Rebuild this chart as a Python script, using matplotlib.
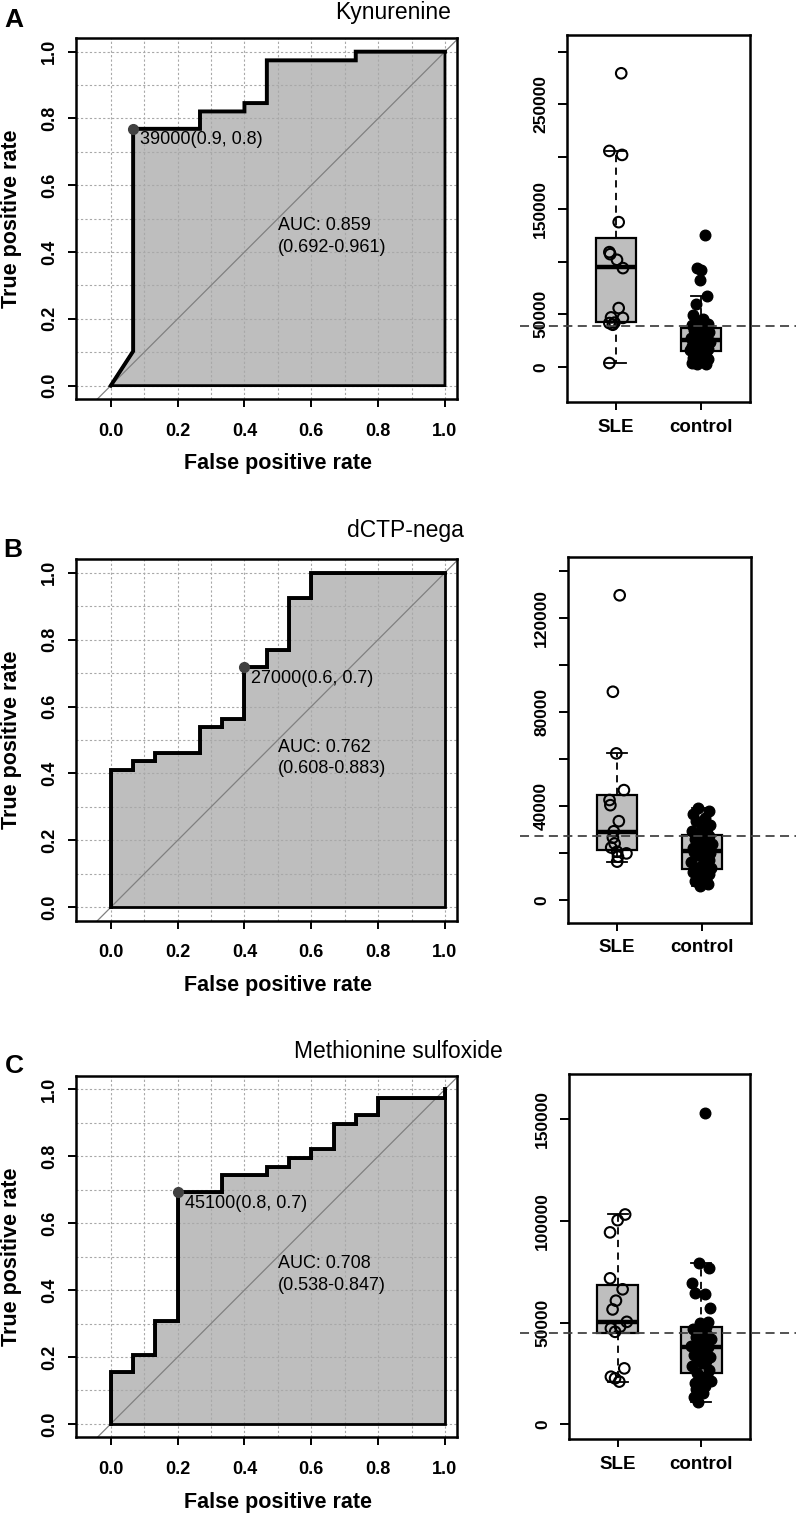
import matplotlib
matplotlib.use("Agg")
import matplotlib.pyplot as plt
from matplotlib.patches import Polygon
from matplotlib.lines import Line2D
import matplotlib.transforms as mtransforms

plt.rcParams['font.family'] = ['Liberation Sans', 'DejaVu Sans']

# ---------------- data ----------------
titles = ["Kynurenine", "dCTP-nega", "Methionine sulfoxide"]
panel_letters = ["A", "B", "C"]
groups = ["SLE", "control"]

# ROC step curves (false positive rate, true positive rate)
fpr_A = [0, 0.067, 0.067, 0.267, 0.267, 0.4, 0.4, 0.467, 0.467, 0.733, 0.733, 1.0]
tpr_A = [0, 0.103, 0.769, 0.769, 0.821, 0.821, 0.846, 0.846, 0.974, 0.974, 1.0, 1.0]
fpr_B = [0, 0, 0.067, 0.067, 0.133, 0.133, 0.267, 0.267, 0.333, 0.333, 0.4, 0.4,
         0.467, 0.467, 0.533, 0.533, 0.6, 0.6, 1.0]
tpr_B = [0, 0.41, 0.41, 0.436, 0.436, 0.462, 0.462, 0.538, 0.538, 0.564, 0.564, 0.718,
         0.718, 0.769, 0.769, 0.923, 0.923, 1.0, 1.0]
fpr_C = [0, 0, 0.067, 0.067, 0.133, 0.133, 0.2, 0.2, 0.333, 0.333, 0.467, 0.467,
         0.533, 0.533, 0.6, 0.6, 0.667, 0.667, 0.733, 0.733, 0.8, 0.8, 1.0, 1.0]
tpr_C = [0, 0.154, 0.154, 0.205, 0.205, 0.308, 0.308, 0.692, 0.692, 0.744, 0.744, 0.769,
         0.769, 0.795, 0.795, 0.821, 0.821, 0.897, 0.897, 0.923, 0.923, 0.974, 0.974, 1.0]

best_points = [(0.067, 0.769), (0.4, 0.718), (0.2, 0.692)]
threshold_labels = ["39000(0.9, 0.8)", "27000(0.6, 0.7)", "45100(0.8, 0.7)"]
auc_labels = ["AUC: 0.859", "AUC: 0.762", "AUC: 0.708"]
ci_labels = ["(0.692-0.961)", "(0.608-0.883)", "(0.538-0.847)"]
thresholds = [39000, 27000, 45100]

# Box plot values
sle_A = [279700, 205700, 201900, 137800, 109200, 107300, 101900, 94000, 55900,
         47000, 46500, 42000, 41600, 40000, 3500]
sle_A_jit = [0.06, -0.08, 0.07, 0.03, -0.08, -0.07, 0.01, 0.08, 0.03,
             -0.06, 0.08, -0.02, -0.08, -0.04, -0.08]
ctrl_A = [125700, 94000, 92500, 82900, 67600, 60000, 48900, 45000, 43000, 41000,
          39500, 37500, 36500, 35000, 33000, 31000, 29000, 27500, 26000, 25000,
          24000, 22500, 21000, 20000, 19000, 17500, 16500, 15500, 15000, 14000,
          12000, 10000, 8500, 7000, 5500, 4500, 3500, 3000, 2500]
ctrl_A_jit = [0.05, -0.04, 0.00, -0.01, 0.07, -0.06, -0.09, 0.03, -0.05, 0.08,
              -0.11, 0.01, 0.06, -0.08, 0.10, -0.02, 0.04, -0.12, 0.07, -0.03,
              0.11, -0.07, 0.02, -0.10, 0.05, -0.04, 0.09, -0.13, 0.00, 0.06,
              -0.06, 0.03, -0.09, 0.08, -0.02, 0.04, -0.11, 0.06, -0.05]

sle_B = [129500, 88500, 62300, 46700, 42500, 40300, 33500, 29200, 26500, 24000,
         22300, 20500, 19800, 18400, 16300]
sle_B_jit = [0.03, -0.05, -0.01, 0.08, -0.09, -0.08, 0.02, -0.04, -0.05, -0.03,
             -0.07, 0.0, 0.11, 0.01, 0.0]
ctrl_B = [38900, 37800, 36500, 35000, 33500, 32000, 30500, 29500, 28500, 27700,
          27000, 26000, 25000, 24000, 23000, 22500, 22000, 21500, 21200, 21000,
          20500, 20000, 19000, 18000, 17000, 16000, 15000, 14000, 13500, 13000,
          12500, 12000, 11500, 11000, 10000, 9000, 8000, 7000, 6000]
ctrl_B_jit = [-0.04, 0.08, -0.10, 0.04, -0.07, 0.10, 0.00, -0.12, 0.06, -0.03,
              0.09, -0.08, 0.02, 0.12, -0.05, 0.05, -0.11, 0.07, -0.01, 0.03,
              -0.09, 0.10, -0.06, 0.01, 0.08, -0.13, 0.04, -0.02, 0.11, -0.07,
              0.06, -0.10, 0.02, 0.09, -0.04, 0.05, -0.08, 0.07, -0.02]

sle_C = [103200, 100400, 94400, 71800, 66400, 60800, 56500, 50400, 48000, 47200,
         45500, 27500, 23400, 22600, 21000]
sle_C_jit = [0.09, 0.0, -0.09, -0.09, 0.06, -0.02, -0.06, 0.11, 0.03, -0.08,
             -0.03, 0.08, -0.08, -0.03, 0.02]
ctrl_C = [153200, 79100, 76700, 69600, 64400, 63900, 57000, 50200, 49700, 48000,
          47000, 45500, 44000, 43000, 42000, 40500, 39500, 38500, 38000, 37900,
          37000, 35500, 34000, 33000, 32000, 31000, 30000, 28500, 26500, 25400,
          24000, 22500, 21500, 20500, 19000, 17500, 15500, 13500, 11100]
ctrl_C_jit = [0.04, -0.03, 0.09, -0.11, -0.08, 0.04, 0.10, 0.08, -0.02, 0.05,
              -0.10, 0.02, 0.07, -0.06, 0.11, -0.03, 0.05, -0.12, 0.00, 0.08,
              -0.07, 0.03, -0.09, 0.10, -0.04, 0.06, 0.01, -0.11, 0.09, -0.05,
              0.07, -0.02, 0.11, -0.08, 0.04, -0.06, 0.02, -0.09, -0.04]

# box statistics: (whisker low, q1, median, q3, whisker high)
box_A = [(3500, 42900, 95200, 122900, 205700), (2900, 15200, 25100, 36800, 67600)]
box_B = [(16300, 21200, 29000, 44600, 62300), (6000, 13000, 21000, 27700, 38900)]
box_C = [(21000, 45000, 50400, 68500, 103200), (11100, 25400, 37900, 48000, 79100)]

box_yticks = [[0, 50000, 100000, 150000, 200000, 250000, 300000],
              [0, 20000, 40000, 60000, 80000, 100000, 120000, 140000],
              [0, 50000, 100000, 150000]]
box_yticklabels = [["0", "50000", "", "150000", "", "250000", ""],
                   ["0", "", "40000", "", "80000", "", "120000", ""],
                   ["0", "50000", "100000", "150000"]]
box_ylims = [(-33650, 316200), (-9650, 145900), (-7230, 172300)]

roc_curves = [(fpr_A, tpr_A), (fpr_B, tpr_B), (fpr_C, tpr_C)]
sle_vals = [sle_A, sle_B, sle_C]
sle_jits = [sle_A_jit, sle_B_jit, sle_C_jit]
ctrl_vals = [ctrl_A, ctrl_B, ctrl_C]
ctrl_jits = [ctrl_A_jit, ctrl_B_jit, ctrl_C_jit]
box_stats = [box_A, box_B, box_C]

# ---------------- layout (pixels) ----------------
W, H = 796, 1517
fig = plt.figure(figsize=(W / 100, H / 100), dpi=100)


def rect(x0, y0, x1, y1):
    return [x0 / W, 1 - y1 / H, (x1 - x0) / W, (y1 - y0) / H]


roc_px = [(76, 38.3, 457, 399), (76, 559.3, 457, 920.7), (76, 1076, 457, 1437.3)]
box_px = [(567, 35, 750, 402), (568, 556.7, 751, 922.7), (569, 1074, 750, 1439)]
title_pos = [(393, 18.5), (405, 537.5), (398, 1057.5)]      # baseline positions
letter_pos = [(14, 27), (13, 557), (14, 1073)]               # baseline positions
ROC_XLIM = (-0.104, 1.036)
ROC_YLIM = (-0.04, 1.04)
GREY = "#bebebe"

for i in range(3):
    # ---------- ROC panel ----------
    x0, y0, x1, y1 = roc_px[i]
    ax = fig.add_axes(rect(x0, y0, x1, y1))
    fpr, tpr = roc_curves[i]
    ax.set_xlim(*ROC_XLIM)
    ax.set_ylim(*ROC_YLIM)
    ax.set_axisbelow(False)
    poly_pts = list(zip(fpr, tpr)) + [(1.0, 0.0), (0.0, 0.0)]
    ax.add_patch(Polygon(poly_pts, closed=True, facecolor=GREY, edgecolor="none",
                         zorder=1))
    ax.add_patch(Polygon(poly_pts, closed=True, fill=False, edgecolor="black",
                         lw=2.0, zorder=2.8))
    ax.set_xticks([0, 0.2, 0.4, 0.6, 0.8, 1.0])
    ax.set_xticklabels(["0.0", "0.2", "0.4", "0.6", "0.8", "1.0"])
    ax.set_yticks([0, 0.2, 0.4, 0.6, 0.8, 1.0])
    ax.set_yticklabels(["0.0", "0.2", "0.4", "0.6", "0.8", "1.0"])
    ax.set_xticks([0.1, 0.3, 0.5, 0.7, 0.9], minor=True)
    ax.set_yticks([0.1, 0.3, 0.5, 0.7, 0.9], minor=True)
    ax.grid(True, which="both", color="#a8a8a8", linestyle=(0, (2, 2)), lw=0.8)
    ax.tick_params(which="minor", length=0)
    ax.tick_params(which="major", length=6, width=1.4, direction="out")
    ax.tick_params(axis="x", pad=11, labelsize=13)
    ax.tick_params(axis="y", pad=7, labelsize=13, labelrotation=90)
    for lab in ax.get_xticklabels() + ax.get_yticklabels():
        lab.set_fontweight("bold")
    for lab in ax.get_yticklabels():
        lab.set_va("center")
    ax.axline((0, 0), (1, 1), color="#808080", lw=0.9, zorder=2.6)
    ax.plot(fpr, tpr, color="black", lw=2.8, zorder=3, solid_joinstyle="miter")
    bx, by = best_points[i]
    ax.plot([bx], [by], "o", color="#404040", ms=7, zorder=4)
    ax.annotate(threshold_labels[i], (bx, by), xytext=(5, -8), textcoords="offset points",
                ha="left", va="center", fontsize=13, zorder=5)
    ax.text(0.5, 0.479, auc_labels[i], ha="left", va="center", fontsize=13, zorder=5)
    ax.text(0.5, 0.414, ci_labels[i], ha="left", va="center", fontsize=13, zorder=5)
    for s in ax.spines.values():
        s.set_linewidth(1.8)
        s.set_zorder(6)

    fig.text(12 / W, 1 - ((y0 + y1) / 2) / H, "True positive rate", rotation=90,
             ha="center", va="center", fontsize=15.5, fontweight="bold")
    fig.text(277.5 / W, 1 - (y1 + 65) / H, "False positive rate",
             ha="center", va="center", fontsize=15.5, fontweight="bold")

    tx, ty = title_pos[i]
    fig.text(tx / W, 1 - ty / H, titles[i], ha="center", va="baseline", fontsize=16.5)
    lx, ly = letter_pos[i]
    fig.text(lx / W, 1 - ly / H, panel_letters[i], ha="center", va="baseline",
             fontsize=19, fontweight="bold")

    # ---------- box plot panel ----------
    bx0, by0, bx1, by1 = box_px[i]
    axb = fig.add_axes(rect(bx0, by0, bx1, by1))
    stats = []
    for (lo, q1, med, q3, hi), name in zip(box_stats[i], groups):
        stats.append(dict(whislo=lo, q1=q1, med=med, q3=q3, whishi=hi, label=name))
    axb.bxp(stats, positions=[1, 2], widths=0.48, capwidths=0.24, showfliers=False,
            patch_artist=True,
            boxprops=dict(facecolor=GREY, edgecolor="black", lw=1.6),
            medianprops=dict(color="black", lw=3.2),
            whiskerprops=dict(color="black", lw=1.3, linestyle=(0, (4, 3))),
            capprops=dict(color="black", lw=1.3))
    axb.scatter([1 + j for j in sle_jits[i]], sle_vals[i], s=58, facecolors="none",
                edgecolors="black", linewidths=1.5, zorder=4)
    axb.scatter([2 + j for j in ctrl_jits[i]], ctrl_vals[i], s=58, facecolors="black",
                edgecolors="black", linewidths=1.0, zorder=4)
    axb.set_xlim(0.42, 2.58)
    axb.set_ylim(*box_ylims[i])
    axb.set_xticks([1, 2])
    axb.set_xticklabels(groups)
    axb.set_yticks(box_yticks[i])
    axb.set_yticklabels(box_yticklabels[i])
    axb.tick_params(axis="y", length=6.5, width=1.4, pad=7, labelsize=12.5, labelrotation=90)
    axb.tick_params(axis="x", length=6, width=1.4, pad=6, labelsize=13.5)
    for lab in axb.get_xticklabels() + axb.get_yticklabels():
        lab.set_fontweight("bold")
    for lab in axb.get_yticklabels():
        lab.set_va("center")
    for s in axb.spines.values():
        s.set_linewidth(1.8)
    trans = mtransforms.blended_transform_factory(axb.transAxes, axb.transData)
    fx0 = (520 - bx0) / (bx1 - bx0)
    fx1 = (796 - bx0) / (bx1 - bx0)
    axb.add_line(Line2D([fx0, fx1], [thresholds[i], thresholds[i]], transform=trans,
                        color="#444444", lw=1.3, linestyle=(0, (5, 3)), clip_on=False,
                        zorder=5))

fig.savefig("out.png", dpi=100)
